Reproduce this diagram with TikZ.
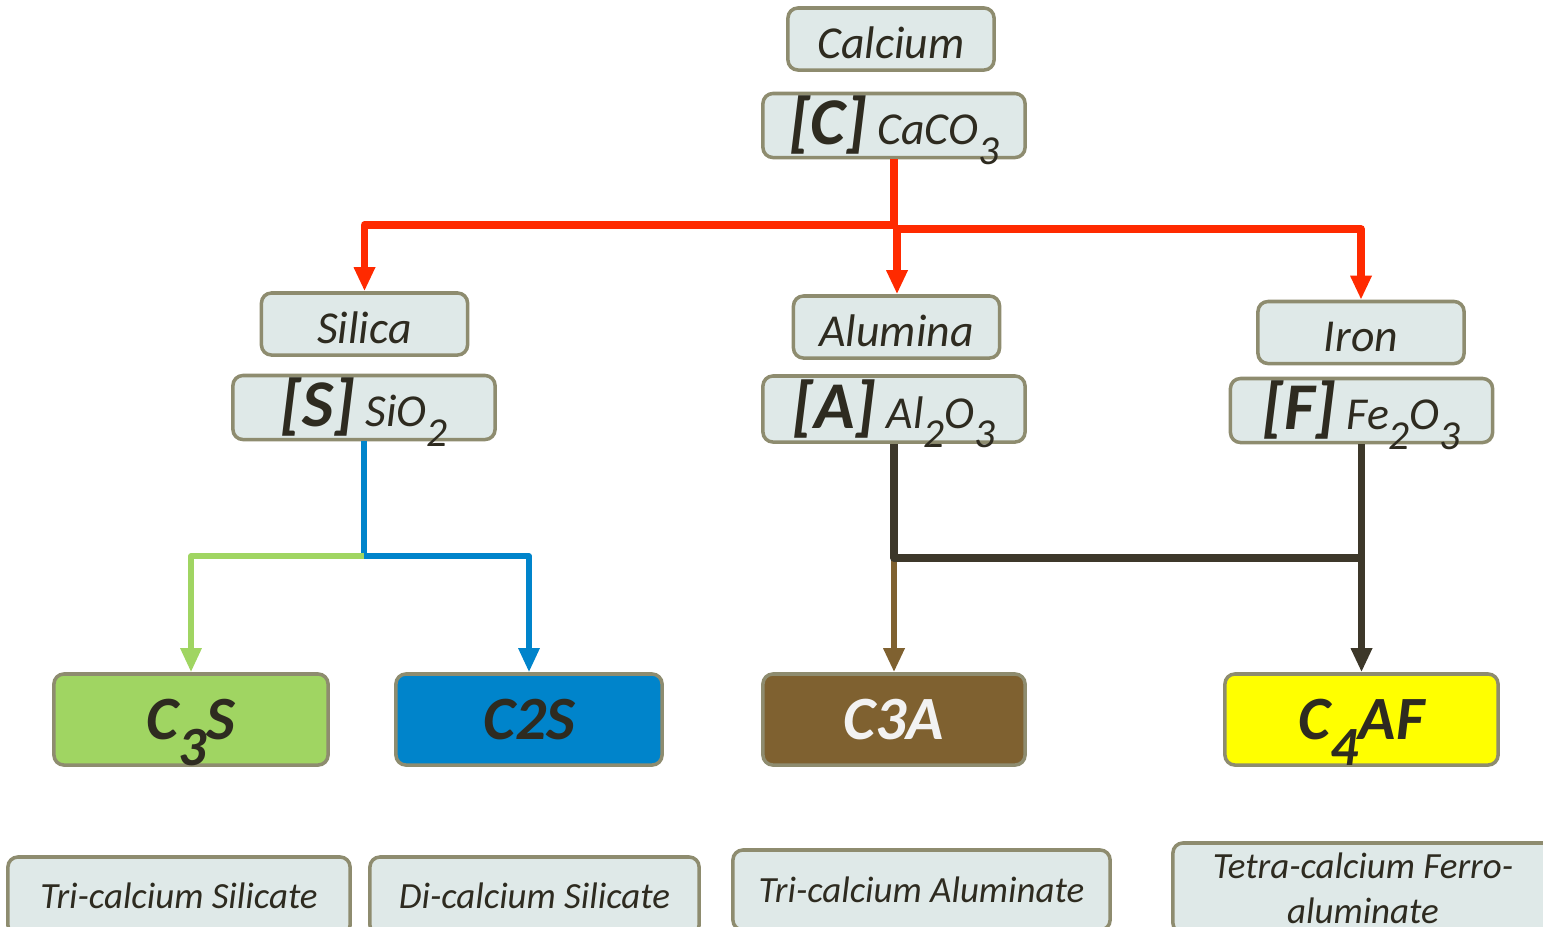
\documentclass[tikz,border=0pt]{standalone}
\usepackage{fontspec}
\setmainfont{Carlito}
\usepackage{tikz}
\usetikzlibrary{arrows.meta}

\definecolor{boxfill}{HTML}{DFE9E8}
\definecolor{boxline}{HTML}{8E8C6F}
\definecolor{inktext}{HTML}{2E2B20}
\definecolor{redline}{HTML}{FF2A00}
\definecolor{blueline}{HTML}{0084CB}
\definecolor{greenline}{HTML}{A0D562}
\definecolor{brownline}{HTML}{7F6130}
\definecolor{darkline}{HTML}{3D382A}
\definecolor{yellowfill}{HTML}{FFFF00}

\newcommand{\lowsub}[1]{\smash{\raisebox{-0.42em}{\scalebox{0.9}{#1}}}}
\newcommand{\bigtag}[1]{{\bfseries\fontsize{19}{21}\selectfont[#1]}}

\tikzset{
  lbox/.style={draw=boxline, fill=boxfill, rounded corners=0.1cm, line width=1pt,
    text=inktext, inner sep=0pt, font={\fontsize{13}{15}\selectfont\itshape}},
  namebox/.style={lbox, minimum width=2.06cm, minimum height=0.62cm, text height=10.8pt, text depth=0pt},
  formbox/.style={lbox, minimum width=2.62cm, minimum height=0.64cm, text height=14pt, text depth=3pt},
  cbox/.style={lbox, minimum height=0.91cm, font={\fontsize{17.5}{20}\selectfont\bfseries\itshape}},
  descbox/.style={lbox, align=center, font={\fontsize{10.5}{12.8}\selectfont\itshape}},
  arr/.style={-{Triangle[length=0.24cm,width=0.2cm]}},
  link/.style={line join=round}
}

\begin{document}
\begin{tikzpicture}[x=0.01cm,y=-0.01cm]
  \useasboundingbox (0,0) rectangle (1543,926);
  \clip (0,0) rectangle (1543,926);

  % raw materials
  \node[namebox] (calcium) at (891,39) {Calcium};
  \node[formbox] (caco) at (894,125.5) {\bigtag{C} CaCO\lowsub{3}};
  \node[namebox] (silica) at (364.5,324) {Silica};
  \node[formbox] (sio) at (364,407.5) {\bigtag{S} SiO\lowsub{2}};
  \node[namebox] (alumina) at (896.5,327) {Alumina};
  \node[formbox, minimum height=0.66cm] (alo) at (894,409) {\bigtag{A} Al\lowsub{2}O\lowsub{3}};
  \node[namebox] (iron) at (1361,332.5) {Iron};
  \node[formbox] (feo) at (1361.5,410.5) {\bigtag{F} Fe\lowsub{2}O\lowsub{3}};

  % compounds
  \node[cbox, fill=greenline, minimum width=2.74cm] (c3s) at (191,719.5) {C\lowsub{3}S};
  \node[cbox, fill=blueline, minimum width=2.66cm] (c2s) at (529,719.5) {C2S};
  \node[cbox, fill=brownline, text=white!95!black, minimum width=2.62cm] (c3a) at (894,719.5) {C3A};
  \node[cbox, fill=yellowfill, minimum width=2.73cm] (c4af) at (1361.5,719.5) {C\lowsub{4}AF};

  % names
  \node[descbox, minimum width=3.42cm, minimum height=0.78cm] (tcs) at (179,896) {Tri-calcium Silicate};
  \node[descbox, minimum width=3.29cm, minimum height=0.78cm] (dcs) at (534.5,896) {Di-calcium Silicate};
  \node[descbox, minimum width=3.77cm, minimum height=0.80cm] (tca) at (921.5,890) {Tri-calcium Aluminate};
  \node[descbox, minimum width=3.80cm, minimum height=0.90cm] (tcfa) at (1363,888) {Tetra-calcium Ferro-\\aluminate};

  % calcium to the others
  \coordinate (csplit) at (894,225);
  \coordinate (csplitr) at (897,229);
  \draw[link, redline, line width=2.2pt] (caco.south) -- (894,229);
  \draw[link, arr, redline, line width=2.2pt] (csplit) -| (silica.north);
  \draw[link, arr, redline, line width=2.2pt] (csplitr) -| (iron.north);
  \draw[arr, redline, line width=2.2pt] (csplitr) -- (csplitr |- alumina.north);

  % silica
  \coordinate (sjoin) at (364,556);
  \draw[link, arr, blueline, line width=1.6pt] (sio.south) -- (sjoin) -| (c2s.north);
  \draw[link, arr, greenline, line width=1.6pt] (sjoin) -| (c3s.north);

  % alumina and iron
  \coordinate (ajoin) at (894,558);
  \draw[arr, brownline, line width=1.8pt] (ajoin) -- (c3a.north);
  \draw[link, darkline, line width=2.2pt] (alo.south) -- (ajoin) -- (ajoin -| feo.south);
  \draw[arr, darkline, line width=2.2pt] (feo.south) -- (c4af.north);
\end{tikzpicture}
\end{document}
